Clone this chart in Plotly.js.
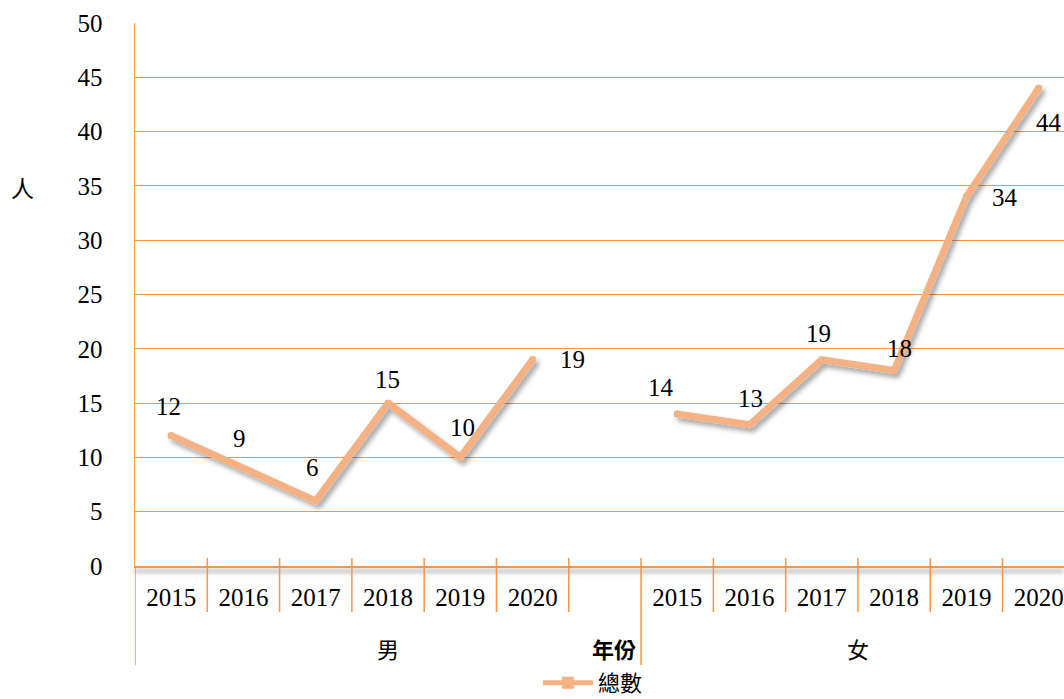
<!DOCTYPE html>
<html><head><meta charset="utf-8">
<script src="https://cdn.plot.ly/plotly-3.0.1.min.js"></script>
<style>html,body{margin:0;padding:0;background:#fff;}#chart{width:1064px;height:699px;}</style>
</head><body><div id="chart"></div>
<script>
// ---- data ----
const groups = ['男', '女'];
const years = ['2015', '2016', '2017', '2018', '2019', '2020'];
const maleValues = [12, 9, 6, 15, 10, 19];
const femaleValues = [14, 13, 19, 18, 34, 44];
const seriesName = '總數';
const yAxisTitle = '人';
const xAxisTitle = '年份';

// ---- label offsets (style, px) ----
const maleDx = [-3, -4, -3, -1, 2, 40];
const maleDy = [29, 30, 33, 24, 30, 0];
const femaleDx = [-16, 1, -3, 5, 39, 10];
const femaleDy = [26, 26, 26, 22, -1, -34];

const ORANGE = '#F79646';
const LINE = '#F4B183';
const SERIF = 'Liberation Serif, Times New Roman, serif';
const CJK = 'Noto Sans CJK TC, Noto Sans CJK SC, sans-serif';

// positions: male slots 0..5, empty slot 6, female slots 7..12
const femaleOffset = years.length + 1;
const xs = [], ys = [], tickvals = [], ticktext = [];
years.forEach((yr, i) => { xs.push(i); ys.push(maleValues[i]); tickvals.push(i); ticktext.push(yr); });
xs.push(years.length); ys.push(null);
years.forEach((yr, i) => { xs.push(i + femaleOffset); ys.push(femaleValues[i]); tickvals.push(i + femaleOffset); ticktext.push(yr); });

const trace = {
  x: xs, y: ys, type: 'scatter', mode: 'lines+markers', name: seriesName,
  connectgaps: false,
  line: {color: LINE, width: 7},
  marker: {color: LINE, symbol: 'square', size: 6},
  hoverinfo: 'skip'
};

const annotations = [];
function addLabels(vals, offset, dx, dy) {
  vals.forEach((v, i) => annotations.push({
    x: i + offset, y: v, xref: 'x', yref: 'y', text: String(v), showarrow: false,
    xshift: dx[i], yshift: dy[i], font: {family: SERIF, size: 25, color: '#000'}
  }));
}
addLabels(maleValues, 0, maleDx, maleDy);
addLabels(femaleValues, femaleOffset, femaleDx, femaleDy);

// group labels
const groupY = -(648 - 566) / 543;
annotations.push({x: (years.length) / 2, y: groupY, xref: 'x', yref: 'paper', yanchor: 'middle', text: groups[0], showarrow: false,
  font: {family: CJK, size: 22, color: '#000'}});
annotations.push({x: femaleOffset + (years.length - 1) / 2, y: groupY, xref: 'x', yref: 'paper', yanchor: 'middle', text: groups[1], showarrow: false,
  font: {family: CJK, size: 22, color: '#000'}});
annotations.push({x: femaleOffset - 0.5, y: -(648 - 566) / 543, xref: 'x', yref: 'paper', xanchor: 'right', yanchor: 'middle', xshift: -4,
  borderpad: 0, text: '<b>' + xAxisTitle + '</b>', showarrow: false, font: {family: CJK, size: 22, color: '#000'}});
annotations.push({x: -135 / 929, y: (566 - 187) / 543, xref: 'paper', yref: 'paper', xanchor: 'center', yanchor: 'middle', xshift: 22,
  text: yAxisTitle, showarrow: false, font: {family: CJK, size: 23, color: '#000'}});

// category boundary lines
const shapes = [];
const shortY0 = -(612 - 566) / 543, topY = 8 / 543, longY0 = -(665 - 566) / 543;
for (let k = 0; k < xs.length; k++) {
  const bx = k - 0.5;
  const isLong = (k === 0 || k === femaleOffset);
  shapes.push({type: 'line', xref: 'x', yref: 'paper', x0: bx, x1: bx,
    y0: isLong ? longY0 : shortY0, y1: k === 0 ? 0 : topY,
    line: {color: ORANGE, width: 1.5}});
}

const layout = {
  width: 1064, height: 699,
  margin: {l: 135, r: 0, t: 23, b: 133, autoexpand: false},
  paper_bgcolor: '#fff', plot_bgcolor: '#fff',
  showlegend: true,
  legend: {orientation: 'h', xref: 'paper', x: 0.493, xanchor: 'center', yref: 'container', y: 16 / 699, yanchor: 'middle',
    font: {family: CJK, size: 22, color: '#000'}, itemsizing: 'constant', itemwidth: 50, bgcolor: 'rgba(0,0,0,0)'},
  xaxis: {type: 'linear', range: [-0.5, 12.35], tickvals: tickvals, ticktext: ticktext,
    showgrid: false, zeroline: false, showline: true, linecolor: ORANGE, linewidth: 1.5, automargin: false,
    ticks: '', ticklabelstandoff: 8, tickfont: {family: SERIF, size: 25, color: '#000'}, fixedrange: true},
  yaxis: {range: [0, 50], dtick: 5, tick0: 0, showgrid: true, gridcolor: ORANGE, gridwidth: 1, automargin: false,
    zeroline: false, showline: true, linecolor: ORANGE, linewidth: 1.5, ticks: '',
    ticklabelstandoff: 26, tickfont: {family: SERIF, size: 25, color: '#000'}, fixedrange: true},
  annotations: annotations,
  shapes: shapes
};

Plotly.newPlot('chart', [trace], layout, {displayModeBar: false, staticPlot: true}).then(() => {
  const svg = document.querySelector('#chart .main-svg');
  const defs = svg.querySelector('defs');
  const NS = 'http://www.w3.org/2000/svg';
  function mk(id, dx, dy, sd, op) {
    const f = document.createElementNS(NS, 'filter');
    f.setAttribute('id', id); f.setAttribute('filterUnits', 'userSpaceOnUse');
    f.setAttribute('x', '0'); f.setAttribute('y', '0');
    f.setAttribute('width', '1064'); f.setAttribute('height', '699');
    const d = document.createElementNS(NS, 'feDropShadow');
    d.setAttribute('dx', dx); d.setAttribute('dy', dy); d.setAttribute('stdDeviation', sd);
    d.setAttribute('flood-color', '#000'); d.setAttribute('flood-opacity', op);
    f.appendChild(d); defs.appendChild(f);
  }
  mk('lineShadow', 3, 4, 2.5, 0.35);
  mk('axisShadow', 0, 4, 2.5, 0.5);
  document.querySelectorAll('#chart .scatterlayer .trace .js-line').forEach(p => {
    p.setAttribute('filter', 'url(#lineShadow)');
    p.style.strokeLinejoin = 'round'; p.style.strokeLinecap = 'round';
  });
  document.querySelectorAll('#chart .xlines-above').forEach(xl => xl.setAttribute('filter', 'url(#axisShadow)'));
});
</script>
</body></html>
